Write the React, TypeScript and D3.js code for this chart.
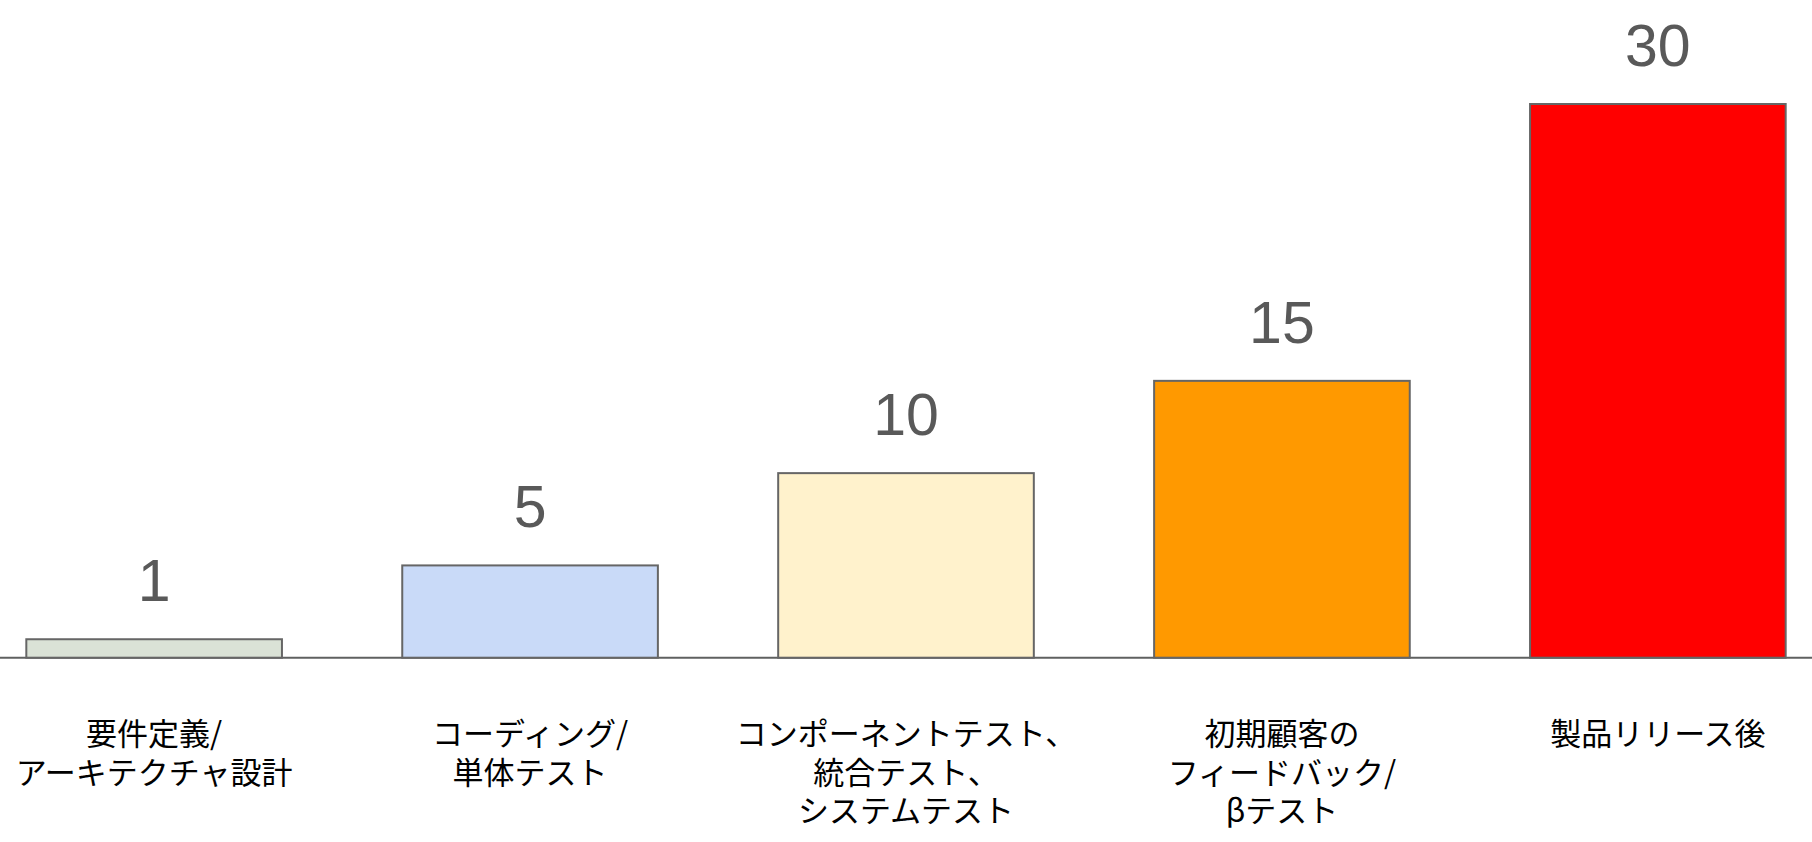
import React, { useEffect, useRef } from 'react';
import * as d3 from 'd3';

// 工程ごとの修正コスト（相対値）
const categories = ['req', 'coding', 'integration', 'beta', 'release'];
const values = [1, 5, 10, 15, 30];
const labelLines = [
  ['要件定義/', 'アーキテクチャ設計'],
  ['コーディング/', '単体テスト'],
  ['コンポーネントテスト、', '統合テスト、', 'システムテスト'],
  ['初期顧客の', 'フィードバック/', 'βテスト'],
  ['製品リリース後'],
];
const barColors = ['#dae2d6', '#c9daf8', '#fff2cc', '#ff9900', '#ff0000'];

const WIDTH = 1812;
const HEIGHT = 842;

export default function App() {
  const svgRef = useRef<SVGSVGElement>(null);

  useEffect(() => {
    if (!svgRef.current) return;
    const svg = d3.select(svgRef.current);
    svg.selectAll('*').remove();

    const baseline = 657.7;
    const top = 104;

    const x = d3.scaleBand<string>()
      .domain(categories)
      .range([0, WIDTH])
      .paddingInner(0.32)
      .paddingOuter(0.07);

    const y = d3.scaleLinear()
      .domain([0, d3.max(values) as number])
      .range([baseline, top]);

    const data = categories.map((c, i) => ({ key: c, value: values[i], color: barColors[i], lines: labelLines[i] }));

    // 軸線
    svg.append('line')
      .attr('x1', 0)
      .attr('x2', WIDTH)
      .attr('y1', baseline)
      .attr('y2', baseline)
      .attr('stroke', '#5f6160')
      .attr('stroke-width', 2);

    const g = svg.append('g');

    g.selectAll('rect')
      .data(data)
      .enter()
      .append('rect')
      .attr('x', d => x(d.key) as number)
      .attr('y', d => y(d.value))
      .attr('width', x.bandwidth())
      .attr('height', d => baseline - y(d.value))
      .attr('fill', d => d.color)
      .attr('stroke', '#666666')
      .attr('stroke-width', 2);

    // 数値ラベル
    g.selectAll('text.value')
      .data(data)
      .enter()
      .append('text')
      .attr('class', 'value')
      .attr('x', d => (x(d.key) as number) + x.bandwidth() / 2)
      .attr('y', d => y(d.value) - 38)
      .attr('text-anchor', 'middle')
      .attr('font-family', '"Liberation Sans", Arial, sans-serif')
      .attr('font-size', '59px')
      .attr('fill', '#595959')
      .text(d => String(d.value));

    // カテゴリラベル
    const cat = g.selectAll('text.cat')
      .data(data)
      .enter()
      .append('text')
      .attr('class', 'cat')
      .attr('text-anchor', 'middle')
      .attr('font-family', '"Noto Sans CJK JP", sans-serif')
      .attr('font-size', '31px')
      .attr('fill', '#000000');

    cat.selectAll('tspan')
      .data(d => d.lines.map(l => ({ l, cx: (x(d.key) as number) + x.bandwidth() / 2 })))
      .enter()
      .append('tspan')
      .attr('x', d => d.cx)
      .attr('y', (_d, i) => 745 + i * 38.5)
      .text(d => d.l);
  }, []);

  return (
    <div style={{ position: 'absolute', left: 0, top: 0, width: WIDTH, height: HEIGHT, background: '#ffffff' }}>
      <svg ref={svgRef} width={WIDTH} height={HEIGHT}></svg>
    </div>
  );
}
